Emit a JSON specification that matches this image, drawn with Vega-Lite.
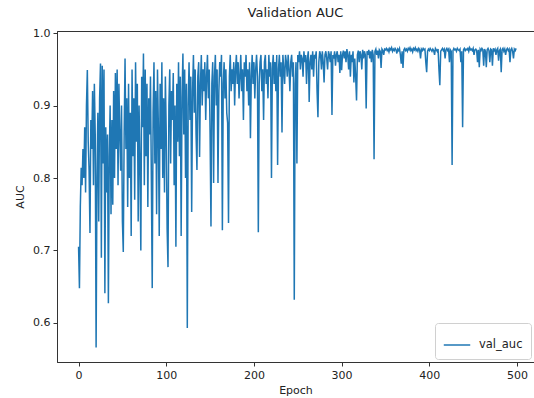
{
  "$schema": "https://vega.github.io/schema/vega-lite/v6.json",
  "autosize": {"type": "none"},
  "padding": {"left": 57, "top": 31, "right": 0, "bottom": 36},
  "width": 477,
  "height": 331,
  "background": "white",
  "title": {"text": "Validation AUC", "font": "DejaVu Sans", "fontSize": 13, "fontWeight": "normal", "color": "#222", "offset": 7},
  "config": {
    "font": "DejaVu Sans",
    "view": {"stroke": "#333", "strokeWidth": 1},
    "axis": {"grid": false, "domainColor": "#333", "tickColor": "#333", "labelColor": "#222", "titleColor": "#222", "labelFontSize": 11, "titleFontSize": 11, "titleFontWeight": "normal", "tickSize": 4, "labelPadding": 3}
  },
  "data": {"values": [
{"epoch":0,"val_auc":0.705},{"epoch":1,"val_auc":0.648},{"epoch":2,"val_auc":0.76},{"epoch":3,"val_auc":0.814},{"epoch":4,"val_auc":0.79},{"epoch":5,"val_auc":0.84},{"epoch":6,"val_auc":0.80},{"epoch":7,"val_auc":0.87},{"epoch":8,"val_auc":0.78},{"epoch":9,"val_auc":0.90},
{"epoch":10,"val_auc":0.949},{"epoch":11,"val_auc":0.85},{"epoch":12,"val_auc":0.81},{"epoch":13,"val_auc":0.724},{"epoch":14,"val_auc":0.88},{"epoch":15,"val_auc":0.84},{"epoch":16,"val_auc":0.92},{"epoch":17,"val_auc":0.79},{"epoch":18,"val_auc":0.93},{"epoch":19,"val_auc":0.86},
{"epoch":20,"val_auc":0.566},{"epoch":21,"val_auc":0.80},{"epoch":22,"val_auc":0.89},{"epoch":23,"val_auc":0.74},{"epoch":24,"val_auc":0.91},{"epoch":25,"val_auc":0.958},{"epoch":26,"val_auc":0.69},{"epoch":27,"val_auc":0.955},{"epoch":28,"val_auc":0.82},{"epoch":29,"val_auc":0.95},
{"epoch":30,"val_auc":0.641},{"epoch":31,"val_auc":0.87},{"epoch":32,"val_auc":0.78},{"epoch":33,"val_auc":0.86},{"epoch":34,"val_auc":0.627},{"epoch":35,"val_auc":0.83},{"epoch":36,"val_auc":0.90},{"epoch":37,"val_auc":0.75},{"epoch":38,"val_auc":0.88},{"epoch":39,"val_auc":0.763},
{"epoch":40,"val_auc":0.92},{"epoch":41,"val_auc":0.80},{"epoch":42,"val_auc":0.945},{"epoch":43,"val_auc":0.84},{"epoch":44,"val_auc":0.95},{"epoch":45,"val_auc":0.79},{"epoch":46,"val_auc":0.93},{"epoch":47,"val_auc":0.86},{"epoch":48,"val_auc":0.81},{"epoch":49,"val_auc":0.90},
{"epoch":50,"val_auc":0.74},{"epoch":51,"val_auc":0.698},{"epoch":52,"val_auc":0.86},{"epoch":53,"val_auc":0.965},{"epoch":54,"val_auc":0.84},{"epoch":55,"val_auc":0.91},{"epoch":56,"val_auc":0.76},{"epoch":57,"val_auc":0.93},{"epoch":58,"val_auc":0.80},{"epoch":59,"val_auc":0.89},
{"epoch":60,"val_auc":0.72},{"epoch":61,"val_auc":0.95},{"epoch":62,"val_auc":0.83},{"epoch":63,"val_auc":0.91},{"epoch":64,"val_auc":0.77},{"epoch":65,"val_auc":0.96},{"epoch":66,"val_auc":0.85},{"epoch":67,"val_auc":0.93},{"epoch":68,"val_auc":0.74},{"epoch":69,"val_auc":0.90},
{"epoch":70,"val_auc":0.82},{"epoch":71,"val_auc":0.70},{"epoch":72,"val_auc":0.94},{"epoch":73,"val_auc":0.87},{"epoch":74,"val_auc":0.972},{"epoch":75,"val_auc":0.79},{"epoch":76,"val_auc":0.95},{"epoch":77,"val_auc":0.83},{"epoch":78,"val_auc":0.93},{"epoch":79,"val_auc":0.76},
{"epoch":80,"val_auc":0.91},{"epoch":81,"val_auc":0.86},{"epoch":82,"val_auc":0.94},{"epoch":83,"val_auc":0.80},{"epoch":84,"val_auc":0.648},{"epoch":85,"val_auc":0.89},{"epoch":86,"val_auc":0.96},{"epoch":87,"val_auc":0.82},{"epoch":88,"val_auc":0.92},{"epoch":89,"val_auc":0.75},
{"epoch":90,"val_auc":0.95},{"epoch":91,"val_auc":0.87},{"epoch":92,"val_auc":0.72},{"epoch":93,"val_auc":0.93},{"epoch":94,"val_auc":0.84},{"epoch":95,"val_auc":0.96},{"epoch":96,"val_auc":0.80},{"epoch":97,"val_auc":0.91},{"epoch":98,"val_auc":0.78},{"epoch":99,"val_auc":0.94},
{"epoch":100,"val_auc":0.86},{"epoch":101,"val_auc":0.73},{"epoch":102,"val_auc":0.677},{"epoch":103,"val_auc":0.90},{"epoch":104,"val_auc":0.95},{"epoch":105,"val_auc":0.82},{"epoch":106,"val_auc":0.92},{"epoch":107,"val_auc":0.88},{"epoch":108,"val_auc":0.945},{"epoch":109,"val_auc":0.79},
{"epoch":110,"val_auc":0.90},{"epoch":111,"val_auc":0.705},{"epoch":112,"val_auc":0.93},{"epoch":113,"val_auc":0.85},{"epoch":114,"val_auc":0.96},{"epoch":115,"val_auc":0.83},{"epoch":116,"val_auc":0.94},{"epoch":117,"val_auc":0.72},{"epoch":118,"val_auc":0.91},{"epoch":119,"val_auc":0.972},
{"epoch":120,"val_auc":0.86},{"epoch":121,"val_auc":0.95},{"epoch":122,"val_auc":0.80},{"epoch":123,"val_auc":0.93},{"epoch":124,"val_auc":0.593},{"epoch":125,"val_auc":0.90},{"epoch":126,"val_auc":0.96},{"epoch":127,"val_auc":0.88},{"epoch":128,"val_auc":0.94},{"epoch":129,"val_auc":0.753},
{"epoch":130,"val_auc":0.92},{"epoch":131,"val_auc":0.97},{"epoch":132,"val_auc":0.89},{"epoch":133,"val_auc":0.95},{"epoch":134,"val_auc":0.86},{"epoch":135,"val_auc":0.811},{"epoch":136,"val_auc":0.94},{"epoch":137,"val_auc":0.96},{"epoch":138,"val_auc":0.829},{"epoch":139,"val_auc":0.93},
{"epoch":140,"val_auc":0.97},{"epoch":141,"val_auc":0.90},{"epoch":142,"val_auc":0.95},{"epoch":143,"val_auc":0.92},{"epoch":144,"val_auc":0.96},{"epoch":145,"val_auc":0.88},{"epoch":146,"val_auc":0.94},{"epoch":147,"val_auc":0.97},{"epoch":148,"val_auc":0.91},{"epoch":149,"val_auc":0.95},
{"epoch":150,"val_auc":0.86},{"epoch":151,"val_auc":0.733},{"epoch":152,"val_auc":0.93},{"epoch":153,"val_auc":0.96},{"epoch":154,"val_auc":0.793},{"epoch":155,"val_auc":0.94},{"epoch":156,"val_auc":0.97},{"epoch":157,"val_auc":0.90},{"epoch":158,"val_auc":0.95},{"epoch":159,"val_auc":0.793},
{"epoch":160,"val_auc":0.92},{"epoch":161,"val_auc":0.96},{"epoch":162,"val_auc":0.94},{"epoch":163,"val_auc":0.97},{"epoch":164,"val_auc":0.728},{"epoch":165,"val_auc":0.93},{"epoch":166,"val_auc":0.96},{"epoch":167,"val_auc":0.91},{"epoch":168,"val_auc":0.95},{"epoch":169,"val_auc":0.89},
{"epoch":170,"val_auc":0.876},{"epoch":171,"val_auc":0.738},{"epoch":172,"val_auc":0.94},{"epoch":173,"val_auc":0.97},{"epoch":174,"val_auc":0.92},{"epoch":175,"val_auc":0.95},{"epoch":176,"val_auc":0.93},{"epoch":177,"val_auc":0.96},{"epoch":178,"val_auc":0.90},{"epoch":179,"val_auc":0.95},
{"epoch":180,"val_auc":0.97},{"epoch":181,"val_auc":0.93},{"epoch":182,"val_auc":0.96},{"epoch":183,"val_auc":0.91},{"epoch":184,"val_auc":0.94},{"epoch":185,"val_auc":0.97},{"epoch":186,"val_auc":0.92},{"epoch":187,"val_auc":0.95},{"epoch":188,"val_auc":0.88},{"epoch":189,"val_auc":0.96},
{"epoch":190,"val_auc":0.94},{"epoch":191,"val_auc":0.97},{"epoch":192,"val_auc":0.92},{"epoch":193,"val_auc":0.95},{"epoch":194,"val_auc":0.90},{"epoch":195,"val_auc":0.96},{"epoch":196,"val_auc":0.855},{"epoch":197,"val_auc":0.94},{"epoch":198,"val_auc":0.97},{"epoch":199,"val_auc":0.93},
{"epoch":200,"val_auc":0.96},{"epoch":201,"val_auc":0.91},{"epoch":202,"val_auc":0.95},{"epoch":203,"val_auc":0.97},{"epoch":204,"val_auc":0.94},{"epoch":205,"val_auc":0.725},{"epoch":206,"val_auc":0.93},{"epoch":207,"val_auc":0.96},{"epoch":208,"val_auc":0.97},{"epoch":209,"val_auc":0.92},
{"epoch":210,"val_auc":0.95},{"epoch":211,"val_auc":0.88},{"epoch":212,"val_auc":0.96},{"epoch":213,"val_auc":0.97},{"epoch":214,"val_auc":0.93},{"epoch":215,"val_auc":0.95},{"epoch":216,"val_auc":0.91},{"epoch":217,"val_auc":0.97},{"epoch":218,"val_auc":0.94},{"epoch":219,"val_auc":0.96},
{"epoch":220,"val_auc":0.80},{"epoch":221,"val_auc":0.95},{"epoch":222,"val_auc":0.97},{"epoch":223,"val_auc":0.93},{"epoch":224,"val_auc":0.96},{"epoch":225,"val_auc":0.92},{"epoch":226,"val_auc":0.97},{"epoch":227,"val_auc":0.818},{"epoch":228,"val_auc":0.95},{"epoch":229,"val_auc":0.97},
{"epoch":230,"val_auc":0.94},{"epoch":231,"val_auc":0.96},{"epoch":232,"val_auc":0.863},{"epoch":233,"val_auc":0.97},{"epoch":234,"val_auc":0.95},{"epoch":235,"val_auc":0.93},{"epoch":236,"val_auc":0.97},{"epoch":237,"val_auc":0.96},{"epoch":238,"val_auc":0.94},{"epoch":239,"val_auc":0.97},
{"epoch":240,"val_auc":0.95},{"epoch":241,"val_auc":0.92},{"epoch":242,"val_auc":0.96},{"epoch":243,"val_auc":0.97},{"epoch":244,"val_auc":0.94},{"epoch":245,"val_auc":0.96},{"epoch":246,"val_auc":0.632},{"epoch":247,"val_auc":0.93},{"epoch":248,"val_auc":0.96},{"epoch":249,"val_auc":0.82},
{"epoch":250,"val_auc":0.97},{"epoch":251,"val_auc":0.96},{"epoch":252,"val_auc":0.975},{"epoch":253,"val_auc":0.95},{"epoch":254,"val_auc":0.97},{"epoch":255,"val_auc":0.965},{"epoch":256,"val_auc":0.94},{"epoch":257,"val_auc":0.975},{"epoch":258,"val_auc":0.96},{"epoch":259,"val_auc":0.97},
{"epoch":260,"val_auc":0.93},{"epoch":261,"val_auc":0.965},{"epoch":262,"val_auc":0.975},{"epoch":263,"val_auc":0.905},{"epoch":264,"val_auc":0.96},{"epoch":265,"val_auc":0.97},{"epoch":266,"val_auc":0.95},{"epoch":267,"val_auc":0.975},{"epoch":268,"val_auc":0.94},{"epoch":269,"val_auc":0.97},
{"epoch":270,"val_auc":0.965},{"epoch":271,"val_auc":0.975},{"epoch":272,"val_auc":0.92},{"epoch":273,"val_auc":0.884},{"epoch":274,"val_auc":0.96},{"epoch":275,"val_auc":0.975},{"epoch":276,"val_auc":0.97},{"epoch":277,"val_auc":0.95},{"epoch":278,"val_auc":0.975},{"epoch":279,"val_auc":0.96},
{"epoch":280,"val_auc":0.932},{"epoch":281,"val_auc":0.97},{"epoch":282,"val_auc":0.975},{"epoch":283,"val_auc":0.965},{"epoch":284,"val_auc":0.95},{"epoch":285,"val_auc":0.975},{"epoch":286,"val_auc":0.97},{"epoch":287,"val_auc":0.96},{"epoch":288,"val_auc":0.975},{"epoch":289,"val_auc":0.887},
{"epoch":290,"val_auc":0.97},{"epoch":291,"val_auc":0.965},{"epoch":292,"val_auc":0.975},{"epoch":293,"val_auc":0.955},{"epoch":294,"val_auc":0.97},{"epoch":295,"val_auc":0.975},{"epoch":296,"val_auc":0.96},{"epoch":297,"val_auc":0.97},{"epoch":298,"val_auc":0.945},{"epoch":299,"val_auc":0.975},
{"epoch":300,"val_auc":0.949},{"epoch":301,"val_auc":0.97},{"epoch":302,"val_auc":0.976},{"epoch":303,"val_auc":0.965},{"epoch":304,"val_auc":0.975},{"epoch":305,"val_auc":0.96},{"epoch":306,"val_auc":0.978},{"epoch":307,"val_auc":0.97},{"epoch":308,"val_auc":0.95},{"epoch":309,"val_auc":0.975},
{"epoch":310,"val_auc":0.94},{"epoch":311,"val_auc":0.97},{"epoch":312,"val_auc":0.96},{"epoch":313,"val_auc":0.975},{"epoch":314,"val_auc":0.932},{"epoch":315,"val_auc":0.965},{"epoch":316,"val_auc":0.94},{"epoch":317,"val_auc":0.907},{"epoch":318,"val_auc":0.97},{"epoch":319,"val_auc":0.976},
{"epoch":320,"val_auc":0.96},{"epoch":321,"val_auc":0.975},{"epoch":322,"val_auc":0.97},{"epoch":323,"val_auc":0.95},{"epoch":324,"val_auc":0.977},{"epoch":325,"val_auc":0.965},{"epoch":326,"val_auc":0.975},{"epoch":327,"val_auc":0.97},{"epoch":328,"val_auc":0.896},{"epoch":329,"val_auc":0.975},
{"epoch":330,"val_auc":0.97},{"epoch":331,"val_auc":0.977},{"epoch":332,"val_auc":0.965},{"epoch":333,"val_auc":0.975},{"epoch":334,"val_auc":0.96},{"epoch":335,"val_auc":0.977},{"epoch":336,"val_auc":0.97},{"epoch":337,"val_auc":0.826},{"epoch":338,"val_auc":0.975},{"epoch":339,"val_auc":0.978},
{"epoch":340,"val_auc":0.97},{"epoch":341,"val_auc":0.976},{"epoch":342,"val_auc":0.965},{"epoch":343,"val_auc":0.977},{"epoch":344,"val_auc":0.975},{"epoch":345,"val_auc":0.952},{"epoch":346,"val_auc":0.978},{"epoch":347,"val_auc":0.976},{"epoch":348,"val_auc":0.97},{"epoch":349,"val_auc":0.978},
{"epoch":350,"val_auc":0.977},{"epoch":351,"val_auc":0.979},{"epoch":352,"val_auc":0.976},{"epoch":353,"val_auc":0.978},{"epoch":354,"val_auc":0.974},{"epoch":355,"val_auc":0.979},{"epoch":356,"val_auc":0.977},{"epoch":357,"val_auc":0.98},{"epoch":358,"val_auc":0.975},{"epoch":359,"val_auc":0.978},
{"epoch":360,"val_auc":0.976},{"epoch":361,"val_auc":0.979},{"epoch":362,"val_auc":0.977},{"epoch":363,"val_auc":0.972},{"epoch":364,"val_auc":0.978},{"epoch":365,"val_auc":0.976},{"epoch":366,"val_auc":0.979},{"epoch":367,"val_auc":0.97},{"epoch":368,"val_auc":0.958},{"epoch":369,"val_auc":0.975},
{"epoch":370,"val_auc":0.952},{"epoch":371,"val_auc":0.977},{"epoch":372,"val_auc":0.979},{"epoch":373,"val_auc":0.976},{"epoch":374,"val_auc":0.978},{"epoch":375,"val_auc":0.975},{"epoch":376,"val_auc":0.979},{"epoch":377,"val_auc":0.977},{"epoch":378,"val_auc":0.98},{"epoch":379,"val_auc":0.976},
{"epoch":380,"val_auc":0.978},{"epoch":381,"val_auc":0.974},{"epoch":382,"val_auc":0.979},{"epoch":383,"val_auc":0.977},{"epoch":384,"val_auc":0.98},{"epoch":385,"val_auc":0.976},{"epoch":386,"val_auc":0.978},{"epoch":387,"val_auc":0.975},{"epoch":388,"val_auc":0.979},{"epoch":389,"val_auc":0.977},
{"epoch":390,"val_auc":0.965},{"epoch":391,"val_auc":0.978},{"epoch":392,"val_auc":0.976},{"epoch":393,"val_auc":0.979},{"epoch":394,"val_auc":0.977},{"epoch":395,"val_auc":0.978},{"epoch":396,"val_auc":0.96},{"epoch":397,"val_auc":0.946},{"epoch":398,"val_auc":0.975},{"epoch":399,"val_auc":0.978},
{"epoch":400,"val_auc":0.976},{"epoch":401,"val_auc":0.979},{"epoch":402,"val_auc":0.977},{"epoch":403,"val_auc":0.975},{"epoch":404,"val_auc":0.978},{"epoch":405,"val_auc":0.976},{"epoch":406,"val_auc":0.97},{"epoch":407,"val_auc":0.979},{"epoch":408,"val_auc":0.977},{"epoch":409,"val_auc":0.975},
{"epoch":410,"val_auc":0.978},{"epoch":411,"val_auc":0.95},{"epoch":412,"val_auc":0.928},{"epoch":413,"val_auc":0.975},{"epoch":414,"val_auc":0.977},{"epoch":415,"val_auc":0.979},{"epoch":416,"val_auc":0.976},{"epoch":417,"val_auc":0.978},{"epoch":418,"val_auc":0.965},{"epoch":419,"val_auc":0.977},
{"epoch":420,"val_auc":0.979},{"epoch":421,"val_auc":0.976},{"epoch":422,"val_auc":0.978},{"epoch":423,"val_auc":0.96},{"epoch":424,"val_auc":0.977},{"epoch":425,"val_auc":0.975},{"epoch":426,"val_auc":0.818},{"epoch":427,"val_auc":0.976},{"epoch":428,"val_auc":0.979},{"epoch":429,"val_auc":0.977},
{"epoch":430,"val_auc":0.978},{"epoch":431,"val_auc":0.975},{"epoch":432,"val_auc":0.979},{"epoch":433,"val_auc":0.977},{"epoch":434,"val_auc":0.976},{"epoch":435,"val_auc":0.978},{"epoch":436,"val_auc":0.96},{"epoch":437,"val_auc":0.975},{"epoch":438,"val_auc":0.87},{"epoch":439,"val_auc":0.977},
{"epoch":440,"val_auc":0.979},{"epoch":441,"val_auc":0.976},{"epoch":442,"val_auc":0.978},{"epoch":443,"val_auc":0.977},{"epoch":444,"val_auc":0.979},{"epoch":445,"val_auc":0.975},{"epoch":446,"val_auc":0.98},{"epoch":447,"val_auc":0.977},{"epoch":448,"val_auc":0.978},{"epoch":449,"val_auc":0.976},
{"epoch":450,"val_auc":0.979},{"epoch":451,"val_auc":0.97},{"epoch":452,"val_auc":0.977},{"epoch":453,"val_auc":0.978},{"epoch":454,"val_auc":0.976},{"epoch":455,"val_auc":0.96},{"epoch":456,"val_auc":0.977},{"epoch":457,"val_auc":0.953},{"epoch":458,"val_auc":0.978},{"epoch":459,"val_auc":0.976},
{"epoch":460,"val_auc":0.979},{"epoch":461,"val_auc":0.977},{"epoch":462,"val_auc":0.955},{"epoch":463,"val_auc":0.978},{"epoch":464,"val_auc":0.975},{"epoch":465,"val_auc":0.953},{"epoch":466,"val_auc":0.977},{"epoch":467,"val_auc":0.979},{"epoch":468,"val_auc":0.976},{"epoch":469,"val_auc":0.96},
{"epoch":470,"val_auc":0.978},{"epoch":471,"val_auc":0.977},{"epoch":472,"val_auc":0.955},{"epoch":473,"val_auc":0.979},{"epoch":474,"val_auc":0.976},{"epoch":475,"val_auc":0.978},{"epoch":476,"val_auc":0.97},{"epoch":477,"val_auc":0.977},{"epoch":478,"val_auc":0.979},{"epoch":479,"val_auc":0.962},
{"epoch":480,"val_auc":0.976},{"epoch":481,"val_auc":0.978},{"epoch":482,"val_auc":0.946},{"epoch":483,"val_auc":0.977},{"epoch":484,"val_auc":0.979},{"epoch":485,"val_auc":0.975},{"epoch":486,"val_auc":0.978},{"epoch":487,"val_auc":0.97},{"epoch":488,"val_auc":0.977},{"epoch":489,"val_auc":0.979},
{"epoch":490,"val_auc":0.976},{"epoch":491,"val_auc":0.978},{"epoch":492,"val_auc":0.96},{"epoch":493,"val_auc":0.977},{"epoch":494,"val_auc":0.979},{"epoch":495,"val_auc":0.975},{"epoch":496,"val_auc":0.965},{"epoch":497,"val_auc":0.978},{"epoch":498,"val_auc":0.976},{"epoch":499,"val_auc":0.979}
  ]},
  "mark": {"type": "line", "strokeWidth": 1.5, "clip": true},
  "encoding": {
    "x": {"field": "epoch", "type": "quantitative", "title": "Epoch",
      "scale": {"domain": [-24.6, 519.4], "nice": false, "zero": false},
      "axis": {"values": [0, 100, 200, 300, 400, 500], "titlePadding": 4}},
    "y": {"field": "val_auc", "type": "quantitative", "title": "AUC",
      "scale": {"domain": [0.546, 1.003], "nice": false, "zero": false},
      "axis": {"values": [0.6, 0.7, 0.8, 0.9, 1.0], "format": ".1f", "titlePadding": 7}},
    "color": {"datum": "val_auc", "type": "nominal",
      "scale": {"range": ["#1f77b4"]},
      "legend": {"title": null, "orient": "bottom-right", "offset": 3, "symbolType": "stroke", "symbolSize": 700, "symbolStrokeWidth": 1.5, "labelFontSize": 11.5, "labelColor": "#222", "labelOffset": 8, "fillColor": "white", "strokeColor": "#d0d0d0", "cornerRadius": 3, "padding": 8, "symbolOffset": 0}}
  }
}
